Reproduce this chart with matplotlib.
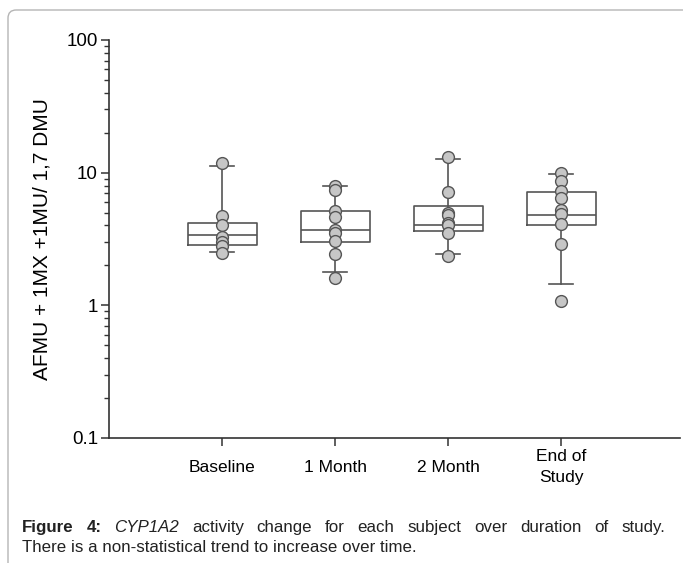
import matplotlib
matplotlib.use("Agg")
import matplotlib.pyplot as plt
import matplotlib.patches as mpatches
from matplotlib.ticker import LogLocator, FuncFormatter, NullFormatter
import numpy as np

plt.rcParams['font.family'] = ['Liberation Sans', 'DejaVu Sans']

# categories and per-subject values
categories = ["Baseline", "1 Month", "2 Month", "End of\nStudy"]
baseline_pts = [11.8, 4.7, 4.0, 3.3, 3.0, 2.8, 2.5]
month1_pts = [8.0, 7.4, 5.1, 4.6, 3.7, 3.5, 3.05, 2.45, 1.6]
month2_pts = [13.2, 7.2, 5.0, 4.8, 4.2, 4.0, 3.5, 2.35]
end_pts = [10.0, 8.6, 7.3, 6.4, 5.2, 4.85, 4.1, 2.9, 1.07]

# box statistics as drawn
q1 = [2.85, 3.0, 3.65, 4.0]
med = [3.39, 3.7, 4.04, 4.8]
q3 = [4.2, 5.1, 5.6, 7.2]
whislo = [2.54, 1.78, 2.45, 1.44]
whishi = [11.2, 7.9, 12.6, 9.7]

W, H = 683, 563
fig = plt.figure(figsize=(W / 100, H / 100), dpi=100)
ax = fig.add_axes([109 / W, (H - 438) / H, (680 - 109) / W, (438 - 40) / H])

line_col = '#555555'
stats = []
for i in range(len(categories)):
    stats.append(dict(med=med[i], q1=q1[i], q3=q3[i],
                      whislo=whislo[i], whishi=whishi[i], fliers=[]))
pos = np.arange(1, len(categories) + 1)
ax.bxp(stats, positions=pos, widths=0.61, capwidths=0.21, showfliers=False,
       boxprops=dict(color=line_col, lw=1.2),
       medianprops=dict(color=line_col, lw=1.2),
       whiskerprops=dict(color=line_col, lw=1.2),
       capprops=dict(color=line_col, lw=1.2))

for p, vals in zip(pos, [baseline_pts, month1_pts, month2_pts, end_pts]):
    ax.plot(np.full(len(vals), p), vals, 'o', ms=8.5, mfc='#c6c6c6',
            mec=line_col, mew=1.0, zorder=5)

ax.set_yscale('log')
ax.set_ylim(0.1, 100)
ax.set_xlim(0, 5.05)
ax.yaxis.set_major_locator(LogLocator(base=10))
ax.yaxis.set_minor_locator(LogLocator(base=10, subs=np.arange(2, 10)))
ax.yaxis.set_major_formatter(FuncFormatter(lambda v, _: '%g' % v))
ax.yaxis.set_minor_formatter(NullFormatter())
ax.set_xticks(pos)
ax.set_xticklabels(categories, fontsize=12.5, va='center', linespacing=1.45)

for s in ['top', 'right']:
    ax.spines[s].set_visible(False)
for s in ['left', 'bottom']:
    ax.spines[s].set_color('#333333')
    ax.spines[s].set_linewidth(1.2)
ax.tick_params(axis='y', which='major', length=6, width=1.1, color='#333333',
               labelsize=13.5, pad=2)
ax.tick_params(axis='y', which='minor', length=3.5, width=1.0, color='#333333')
ax.tick_params(axis='x', length=6, width=1.1, color='#333333', pad=15)

ax.set_ylabel('AFMU + 1MX +1MU/ 1,7 DMU', fontsize=15, labelpad=11)

# rounded frame around the figure
frame = mpatches.FancyBboxPatch((8 / W, -0.2), 1.2, 0.2 + (H - 10) / H,
                                boxstyle="round,pad=0,rounding_size=0.012",
                                mutation_aspect=W / H, transform=fig.transFigure,
                                fill=False, ec='#b5b5b5', lw=1.0)
fig.patches.append(frame)

# caption, first line justified
fig.canvas.draw()
renderer = fig.canvas.get_renderer()
cap_fs = 12.2
line1 = [("Figure", 'bold', 'normal'), ("4:", 'bold', 'normal'),
         ("CYP1A2", 'normal', 'italic')]
line1 += [(w, 'normal', 'normal') for w in
          "activity change for each subject over duration of study.".split()]
x0, x1, y1 = 22, 665, H - 532
widths = []
for w, wt, st in line1:
    t = fig.text(0, 0, w, fontsize=cap_fs, weight=wt, style=st)
    widths.append(t.get_window_extent(renderer).width)
    t.remove()
gap = (x1 - x0 - sum(widths)) / (len(line1) - 1)
x = x0
for (w, wt, st), wd in zip(line1, widths):
    fig.text(x / W, y1 / H, w, fontsize=cap_fs, weight=wt, style=st,
             va='baseline', color='#222222')
    x += wd + gap
fig.text(x0 / W, (H - 552) / H, "There is a non-statistical trend to increase over time.",
         fontsize=cap_fs, va='baseline', color='#222222')

fig.savefig('out.png', dpi=100)
